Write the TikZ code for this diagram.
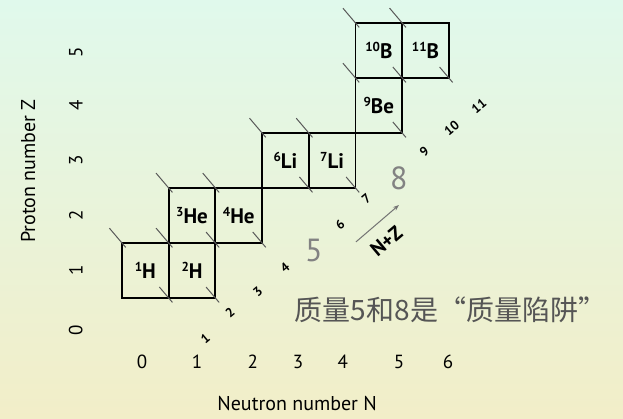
\documentclass[tikz,border=0pt]{standalone}
\usepackage{fontspec}
\setmainfont{PT Sans}
\newfontfamily\cjk{Noto Sans CJK SC}
\usetikzlibrary{arrows.meta}
\definecolor{bgtop}{RGB}{224,249,236}
\definecolor{bgbottom}{RGB}{242,238,200}
\definecolor{trapgray}{RGB}{130,130,130}
\definecolor{notegray}{RGB}{85,85,85}
\newcommand{\iso}[2]{\raisebox{6.5pt}{\fontsize{13}{13}\selectfont #1}#2}

\begin{document}
\begin{tikzpicture}[x=46.7pt, y=55pt,
    nuc/.style={draw, line width=1.8pt, minimum width=46.7pt, minimum height=55pt,
      inner sep=0pt, outer sep=0pt, font=\bfseries\fontsize{21}{21}\selectfont},
    isobar/.style={draw=black!65, line width=1pt},
    axnum/.style={font=\fontsize{19}{19}\selectfont},
    axtitle/.style={font=\fontsize{20}{20}\selectfont},
    masslab/.style={font=\bfseries\fontsize{13}{13}\selectfont, rotate=40, inner sep=1pt},
    trap/.style={text=trapgray, font=\fontsize{32}{32}\selectfont}]

    \shade[top color=bgtop, bottom color=bgbottom] (-2.612,-1.182) rectangle (10.728,6.418);
    \useasboundingbox (-2.612,-1.182) rectangle (10.728,6.418);

    % nuclides, box (N,Z) centred at (N+0.5, Z+0.5)
    \node[nuc] (h1) at (0.5, 1.5) {\iso{1}{H}};
    \node[nuc] (h2) at (1.5, 1.5) {\iso{2}{H}};

    \node[nuc] (he3) at (1.5, 2.5) {\iso{3}{He}};
    \node[nuc] (he4) at (2.5, 2.5) {\iso{4}{He}};

    \node[nuc] (li6) at (3.5, 3.5) {\iso{6}{Li}};
    \node[nuc] (li7) at (4.5, 3.5) {\iso{7}{Li}};

    \node[nuc] (be9) at (5.5, 4.5) {\iso{9}{Be}};

    \node[nuc] (b10) at (5.5, 5.5) {\iso{10}{B}};
    \node[nuc] (b11) at (6.5, 5.5) {\iso{11}{B}};

    % bits of the N+Z = const lines
    \foreach \b in {h1, h2, he3, he4, li6, li7, be9, b10, b11} {
      \draw[isobar] (\b.north west) ++(-0.27, 0.27) -- ++(0.35, -0.35);
      \draw[isobar] (\b.south east) ++(-0.2, 0.2) -- ++(0.28, -0.28);
    }

    % mass numbers
    \node[masslab] (a1) at (1.78, 0.27) {1};
    \node[masslab] (a2) at (2.31, 0.73) {2};
    \node[masslab] (a3) at (2.91, 1.11) {3};
    \node[masslab] (a4) at (3.49, 1.55) {4};
    \node[masslab] (a6) at (4.67, 2.33) {6};
    \node[masslab] (a7) at (5.23, 2.80) {7};
    \node[masslab] (a9) at (6.47, 3.66) {9};
    \node[masslab] (a10) at (7.06, 4.09) {10};
    \node[masslab] (a11) at (7.64, 4.49) {11};

    \node[trap] (gap5) at (4.11, 1.87) {5};
    \node[trap] (gap8) at (5.93, 3.18) {8};

    \coordinate (dirtail) at (5.01, 2.02);
    \coordinate (dirhead) at (5.93, 2.69);
    \draw[-{Stealth[length=6pt]}, draw=black!55, line width=1pt] (dirtail) -- (dirhead);
    \node[rotate=40, inner sep=0pt, font=\bfseries\fontsize{20}{20}\selectfont] (nz) at (5.66, 2.03) {N+Z};

    % axes
    \node[axnum] (n0) at (0.43, -0.16) {0};
    \node[axnum] (n1) at (1.61, -0.16) {1};
    \node[axnum] (n2) at (2.80, -0.16) {2};
    \node[axnum] (n3) at (3.77, -0.16) {3};
    \node[axnum] (n4) at (4.73, -0.16) {4};
    \node[axnum] (n5) at (5.93, -0.16) {5};
    \node[axnum] (n6) at (6.98, -0.16) {6};
    \node[axtitle] (ntitle) at (3.75, -0.91) {Neutron number N};

    \node[axnum, rotate=90] (z0) at (-0.99, 0.42) {0};
    \node[axnum, rotate=90] (z1) at (-0.99, 1.51) {1};
    \node[axnum, rotate=90] (z2) at (-0.99, 2.51) {2};
    \node[axnum, rotate=90] (z3) at (-0.99, 3.51) {3};
    \node[axnum, rotate=90] (z4) at (-0.99, 4.51) {4};
    \node[axnum, rotate=90] (z5) at (-0.99, 5.47) {5};
    \node[axtitle, rotate=90] (ztitle) at (-2.01, 3.31) {Proton number Z};

    \node[anchor=west, inner sep=0pt, text=notegray, font=\cjk\fontsize{28}{28}\selectfont]
      (note) at (3.70, 0.78) {质量5和8是“质量陷阱”};

\end{tikzpicture}
\end{document}
